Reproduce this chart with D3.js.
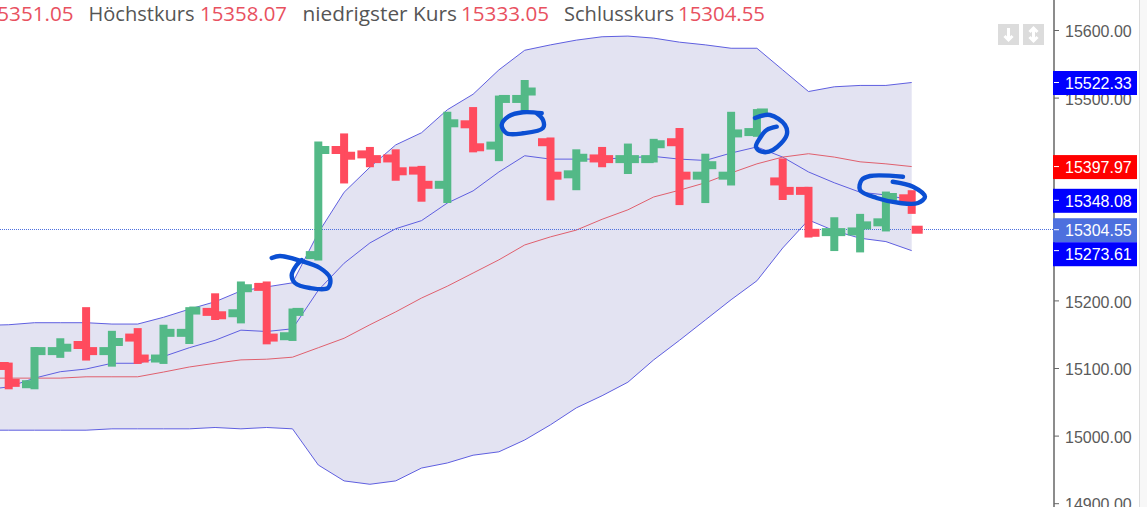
<!DOCTYPE html>
<html><head><meta charset="utf-8">
<script src="https://cdn.jsdelivr.net/npm/d3@7"></script>
<style>html,body{margin:0;padding:0;background:#fff;overflow:hidden}svg{display:block}</style>
</head><body><div id="chart"></div>
<script>
// Bars: one entry per session
const opens  = [15103,15076,15125,15134,15125,15145,15114,15152,15183,15181,15220,15147,15267,15422.5,15416,15410,15392,15371,15460.5,15429,15498,15434,15386.5,15410,15409,15409,15434,15384.5,15384.5,15449,15376,15362,15301,15302,15315.5,15351.05];
const highs  = [15108,15131,15144,15190,15155,15159,15164,15190,15210.5,15228,15228,15188,15435,15447,15427,15423.5,15399,15479,15486,15503,15526,15441,15423.5,15427,15432,15439,15455,15417,15479,15483,15410,15368,15323,15328,15361,15363];
const lows   = [15068.5,15068.5,15115,15111,15102,15106,15106,15135.5,15171,15166,15135,15140,15259,15373,15397,15377,15346,15344,15419,15406,15477,15348,15363,15397,15387,15404,15341,15344,15370,15442,15348.5,15293,15273,15271,15302,15328];
const closes = [15078,15125,15130,15125,15138.5,15114,15152,15185,15178,15218,15145,15183,15422.5,15414,15409,15391,15371,15462,15426.5,15498,15509,15384.5,15411,15409,15409,15431,15384.5,15400,15447,15478,15362,15300,15301,15311,15353,15304.55];

// Bands: first value lies one session before the first bar (off the left edge)
const bandUpper = [15163,15164,15167,15167,15167,15165,15165,15175,15187,15198,15214,15220,15226,15300,15360,15397,15430,15448,15482,15505,15541,15570,15578,15585,15590,15591,15588,15582,15578,15573,15573,15541,15509,15516,15518,15518,15522.33];
const bandInner = [15067.5,15072,15085,15094.5,15098.5,15107,15107,15117,15130,15141,15156,15154,15158,15215,15255,15285,15306,15318,15344,15362,15390,15414,15409,15409,15409,15411,15413,15409,15407,15418,15427,15412,15390,15374,15360,15356,15348.08];
const bandMiddle= [15085,15085,15085,15085,15087,15087,15087,15094,15101.5,15107,15112,15113,15116,15130,15144,15164,15183,15203.5,15221,15240.5,15260,15282,15294,15304,15320,15334,15353,15363,15374,15388.5,15402,15412,15417,15412,15405,15402,15397.97];
const bandLower = [15008,15008,15008,15008,15008,15010,15010,15010,15010,15012,15010,15012,15010,14956.5,14933,14928,14933,14952,14959.5,14971,14976,14993.5,15016,15041,15059,15079,15112,15141,15171,15201,15229,15277.5,15319,15303,15292,15287,15273.61];

const axisTicks = [15600,15500,15400,15300,15200,15100,15000,14900];
const priceTags = [
  {v:15522.33,c:"#0000ff"},
  {v:15397.97,c:"#ff0000"},
  {v:15348.08,c:"#0000ff"},
  {v:15304.55,c:"#4d70de"},
  {v:15273.61,c:"#0000ff"}
];
const headerParts = [
  {t:"15351.05",red:1,x:-14.5,w:88},
  {t:"Höchstkurs",x:88.5,w:106},
  {t:"15358.07",red:1,x:200,w:87},
  {t:"niedrigster Kurs",x:302.5,w:154.5},
  {t:"15333.05",red:1,x:461,w:88},
  {t:"Schlusskurs",x:564,w:110},
  {t:"15304.55",red:1,x:678,w:87}
];
// Hand-drawn blue pen marks on the screenshot (page pixels, not chart data)
const penMarks = [
  [[271.7,258],[280,256],[300,260.7],[320,268],[330,278],[328,288],[310,288],[295,283],[291.7,275],[296.7,265],[301.7,260]],
  [[541.7,113.3],[523,112.3],[508,116.7],[501.7,125],[506.7,133.3],[523,133.3],[543,128],[543,120],[536.7,113.3]],
  [[755,118],[770,115],[785,125],[786.7,135],[773,150],[761.7,151.7],[756,146.7],[760,138],[766.7,130],[776.7,126.7]],
  [[903,176.7],[870,176],[861.7,180],[860,190],[876.7,198],[900,203],[918,203],[925,196.7],[913,186.7],[892.7,181.7]]
];

const W=1147,H=507,axisX=1054;
const GREEN="#53b987",RED="#ff4b5e";
const x=d3.scaleLinear().domain([0,35]).range([8.7,911.7]);
const y=d3.scaleLinear().domain([15600,14900]).range([30,503.2]);
const svg=d3.select("#chart").append("svg").attr("width",W).attr("height",H);

// right strip
svg.append("rect").attr("x",1139).attr("y",0).attr("width",8).attr("height",H).attr("fill","#f7f7f7");
svg.append("line").attr("x1",1139.5).attr("x2",1139.5).attr("y1",0).attr("y2",H).attr("stroke","#dcdcdc");

// band
const idx=d3.range(bandUpper.length);
svg.append("path").attr("fill","#e3e3f2")
  .attr("d",d3.area().x(i=>x(i-1)).y0(i=>y(bandLower[i])).y1(i=>y(bandUpper[i]))(idx));
const lineOf=a=>d3.line().x((d,i)=>x(i-1)).y(d=>y(d))(a);
[[bandUpper,"#5f5fe0"],[bandLower,"#5f5fe0"],[bandInner,"#5f5fe0"],[bandMiddle,"#e0606e"]].forEach(([a,c])=>{
  svg.append("path").attr("d",lineOf(a)).attr("fill","none").attr("stroke",c).attr("stroke-width",1);
});

// last-price line
svg.append("line").attr("x1",0).attr("x2",axisX).attr("y1",Math.floor(y(15304.55))+.5).attr("y2",Math.floor(y(15304.55))+.5)
  .attr("stroke","#4d70de").attr("stroke-width",1).attr("stroke-dasharray","1 1");

// OHLC bars
const bars=svg.append("g");
opens.forEach((o,i)=>{
  const col=closes[i]>=o?GREEN:RED, g=bars.append("g").attr("stroke",col);
  const cx=x(i);
  g.append("line").attr("x1",cx).attr("x2",cx).attr("y1",y(highs[i])).attr("y2",y(lows[i])).attr("stroke-width",8);
  g.append("line").attr("x1",cx-12.5).attr("x2",cx).attr("y1",y(o)).attr("y2",y(o)).attr("stroke-width",8);
  g.append("line").attr("x1",cx).attr("x2",cx+11).attr("y1",y(closes[i])).attr("y2",y(closes[i])).attr("stroke-width",8);
});

// pen marks
const pen=d3.line().curve(d3.curveCatmullRom.alpha(.5));
penMarks.forEach(m=>svg.append("path").attr("d",pen(m)).attr("fill","none")
  .attr("stroke","#0b4fd3").attr("stroke-width",4.4).attr("stroke-linecap","round"));

// axis
const ax=svg.append("g").attr("transform",`translate(${axisX},0)`)
  .call(d3.axisRight(y).tickValues(axisTicks).tickSize(5).tickPadding(6).tickFormat(d3.format(".2f")));
ax.select(".domain").remove();
ax.selectAll("line").attr("stroke","#666");
ax.selectAll("text").attr("font-family","Liberation Sans").attr("font-size",16).attr("fill","#5a5a5a").attr("dy","0.42em");
svg.append("line").attr("x1",axisX).attr("x2",axisX).attr("y1",0).attr("y2",H).attr("stroke","#666").attr("stroke-width",1.5);

// price tags, pushed apart where they would collide
let prevBottom=-Infinity;
const tagH=24;
const tags=priceTags.map(t=>{
  const top=Math.max(y(t.v)-tagH/2+.5,prevBottom);
  prevBottom=top+tagH;
  return {...t,top};
});
const tg=svg.append("g").selectAll("g").data(tags).join("g").attr("transform",d=>`translate(${axisX-1},${d.top})`);
tg.append("rect").attr("width",84).attr("height",tagH).attr("fill",d=>d.c);
tg.append("text").attr("x",12).attr("y",tagH/2).attr("dy","0.37em").text(d=>d3.format(".2f")(d.v))
  .attr("font-family","Liberation Sans").attr("font-size",16).attr("fill","#fff");
tg.append("line").attr("x1",1).attr("x2",6).attr("y1",d=>y(d.v)-d.top).attr("y2",d=>y(d.v)-d.top).attr("stroke","#fff");

// header
svg.append("g").selectAll("text").data(headerParts).join("text")
  .attr("x",d=>d.x).attr("y",20.5).text(d=>d.t)
  .attr("font-family","Open Sans").attr("font-size",20.5)
  .attr("textLength",d=>d.w).attr("lengthAdjust","spacingAndGlyphs")
  .attr("fill",d=>d.red?"#e8515f":"#555");

// small buttons
[998,1023].forEach((bx,i)=>{
  svg.append("rect").attr("x",bx).attr("y",24).attr("width",21).attr("height",21).attr("fill","#dcdcdc");
  const cx=bx+10.5, a=svg.append("path").attr("fill","none").attr("stroke","#fff").attr("stroke-width",3);
  a.attr("d", i==0
    ? `M${cx},28V40M${cx-4},36L${cx},40L${cx+4},36`
    : `M${cx},28V41M${cx-4},32L${cx},28L${cx+4},32M${cx-4},37L${cx},41L${cx+4},37`);
});
</script></body></html>
